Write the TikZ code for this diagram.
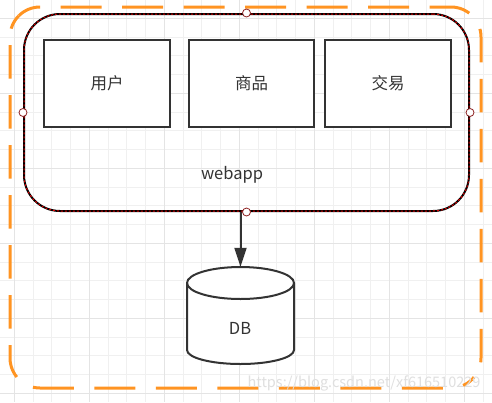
\documentclass[tikz,border=0pt]{standalone}
\usepackage{fontspec}
\setmainfont{Noto Sans CJK SC}
\usetikzlibrary{arrows.meta}
\definecolor{textgray}{HTML}{333333}
\definecolor{lineorange}{HTML}{FF9422}
\definecolor{portred}{HTML}{8E2323}
\definecolor{gridminor}{HTML}{F0F0F0}
\definecolor{gridmajor}{HTML}{E4E4E4}
\begin{document}
\begin{tikzpicture}[x=1pt,y=-1pt,
    every node/.style={font=\fontsize{16.5}{19}\selectfont,text=textgray},
    module/.style={draw=textgray,line width=2pt,fill=white,minimum width=126pt,minimum height=87pt},
    container/.style={draw=black,line width=2pt,rounded corners=36pt,minimum width=445pt,minimum height=197pt,
        postaction={draw=red!85!black,line width=1pt,dash pattern=on 2pt off 2pt}},
    port/.style={circle,draw=portred,fill=white,line width=0.8pt,inner sep=0pt,minimum size=8pt},
    hside/.style={draw=lineorange,line width=3pt,dash pattern=on 41pt off 20.5pt},
    vside/.style={draw=lineorange,line width=3pt,dash pattern=on 33.5pt off 16.5pt},
    dbline/.style={draw=textgray,line width=2pt}]
    \useasboundingbox (0,0) rectangle (492,402);
    \fill[white] (0,0) rectangle (492,402);

    %%%%%%%%%% Griglia %%%%%%%%%%
    \foreach \k in {0,...,25} \draw[gridminor,line width=1pt] ({14.3+18.75*\k},0) -- ({14.3+18.75*\k},402);
    \foreach \k in {1,...,21} \draw[gridminor,line width=1pt] (0,{-0.45+18.75*\k}) -- (492,{-0.45+18.75*\k});
    \foreach \k in {0,...,6} \draw[gridmajor,line width=1pt] ({14.3+75*\k},0) -- ({14.3+75*\k},402);
    \foreach \k in {0,...,5} \draw[gridmajor,line width=1pt] (0,{18.3+75*\k}) -- (492,{18.3+75*\k});

    %%%%%%%%%% Confine %%%%%%%%%%
    \draw[hside,dash phase=17.4pt] ([shift={(225:30)}]40,37) arc[start angle=225,end angle=270,radius=30]
        -- (451,7) arc[start angle=270,end angle=315,radius=30];
    \draw[vside,dash phase=18.4pt] ([shift={(225:30)}]40,37) arc[start angle=225,end angle=180,radius=30]
        -- (10,358) arc[start angle=180,end angle=135,radius=30];
    \draw[hside,dash phase=45pt] ([shift={(135:30)}]40,358) arc[start angle=135,end angle=90,radius=30]
        -- (451,388) arc[start angle=90,end angle=45,radius=30];
    \draw[vside,dash phase=34.6pt] ([shift={(315:30)}]451,37) arc[start angle=315,end angle=360,radius=30]
        -- (481,358) arc[start angle=0,end angle=45,radius=30];

    %%%%%%%%%% Nodi %%%%%%%%%%
    \node (webapp) at (246.5,112.5) [container] {};
    \node (user) at (107,83.5) [module] {用户};
    \node (goods) at (251.5,83.5) [module,minimum width=125pt] {商品};
    \node (trade) at (388,83.5) [module] {交易};
    \node (label) at (232,175) {webapp};
    \foreach \a in {north,south,east,west}
        \node (port-\a) at (webapp.\a) [port] {};

    % cilindro DB
    \draw[dbline,fill=white] (187,283) -- (187,350)
        arc[start angle=180,end angle=0,x radius=53.5,y radius=14] -- (294,283)
        arc[start angle=0,end angle=-180,x radius=53.5,y radius=16] -- cycle;
    \draw[dbline] (187,283) arc[start angle=180,end angle=0,x radius=53.5,y radius=16];
    \node (DB) at (240.5,317) [minimum width=107pt,minimum height=100pt] {};
    \node (DBtext) at (240,328) {DB};

    %%%%%%%%% Frecce %%%%%%%%%
    \draw[textgray,line width=2pt,-{Triangle[length=19pt,width=12pt]}] (webapp.south -| DB.north) -- (DB.north);

    \node (watermark) at (364,383) [font=\fontsize{14.5}{17}\selectfont,text=gray!25] {https://blog.csdn.net/xf616510229};
\end{tikzpicture}
\end{document}
